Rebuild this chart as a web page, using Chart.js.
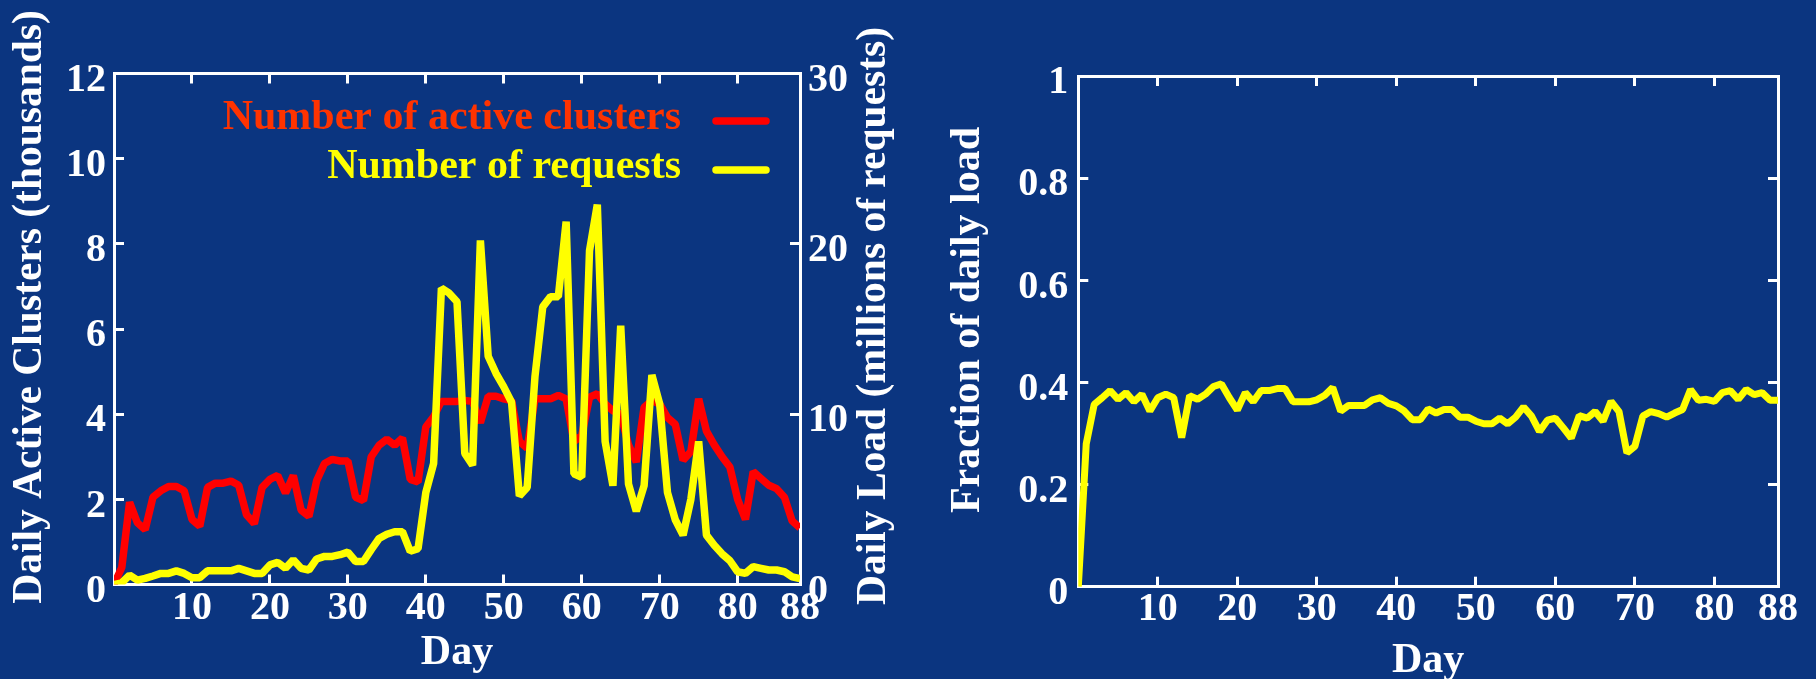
<!DOCTYPE html>
<html>
<head>
<meta charset="utf-8">
<script src="https://cdn.jsdelivr.net/npm/chart.js@4.4.1/dist/chart.umd.min.js"></script>
<style>
  html, body { margin: 0; padding: 0; background: #0b3580; }
  #wrap { position: relative; width: 1816px; height: 679px; overflow: hidden; }
  canvas { position: absolute; top: 0; }
  #left { left: 0; }
  #right { left: 908px; }
</style>
</head>
<body>
<div id="wrap">
  <canvas id="left" width="908" height="679"></canvas>
  <canvas id="right" width="908" height="679"></canvas>
</div>
<script>
// day index, 0..88
const days = [
  0, 1, 2, 3, 4, 5, 6, 7, 8, 9, 10, 11, 12, 13, 14, 15, 16, 17, 18, 19,
  20, 21, 22, 23, 24, 25, 26, 27, 28, 29, 30, 31, 32, 33, 34, 35, 36, 37, 38, 39,
  40, 41, 42, 43, 44, 45, 46, 47, 48, 49, 50, 51, 52, 53, 54, 55, 56, 57, 58, 59,
  60, 61, 62, 63, 64, 65, 66, 67, 68, 69, 70, 71, 72, 73, 74, 75, 76, 77, 78, 79,
  80, 81, 82, 83, 84, 85, 86, 87, 88,
];

// daily active clusters (thousands)
const clusters = [
  0.0, 0.4, 1.93, 1.45, 1.29, 2.05, 2.2, 2.3, 2.3, 2.2,
  1.53, 1.37, 2.28, 2.38, 2.38, 2.43, 2.33, 1.64, 1.43, 2.28,
  2.47, 2.56, 2.15, 2.56, 1.75, 1.6, 2.44, 2.84, 2.94, 2.9,
  2.9, 2.05, 1.97, 3.0, 3.27, 3.41, 3.27, 3.44, 2.47, 2.41,
  3.7, 3.94, 4.3, 4.3, 4.3, 4.32, 4.3, 3.8, 4.42, 4.42,
  4.36, 4.32, 3.36, 3.2, 4.36, 4.36, 4.36, 4.44, 4.36, 3.36,
  3.5, 4.4, 4.48, 4.24, 4.08, 4.0, 3.28, 2.88, 4.16, 4.32,
  4.24, 3.92, 3.76, 2.92, 3.12, 4.36, 3.6, 3.28, 3.0, 2.76,
  2.0, 1.53, 2.65, 2.49, 2.33, 2.25, 2.05, 1.49, 1.33,
];

// daily load (millions of requests)
const requests = [
  0.0, 0.1, 0.55, 0.26, 0.36, 0.5, 0.65, 0.65, 0.8, 0.65,
  0.4, 0.4, 0.8, 0.8, 0.8, 0.8, 0.95, 0.8, 0.65, 0.65,
  1.15, 1.3, 0.95, 1.45, 0.95, 0.85, 1.5, 1.65, 1.65, 1.75,
  1.9, 1.35, 1.35, 2.05, 2.7, 2.95, 3.1, 3.1, 1.95, 2.1,
  5.4, 7.1, 17.4, 17.1, 16.6, 7.7, 7.0, 20.2, 13.4, 12.4,
  11.6, 10.7, 5.2, 5.7, 12.2, 16.3, 16.9, 16.9, 21.3, 6.5,
  6.3, 19.6, 22.3, 8.4, 5.8, 15.2, 5.9, 4.3, 5.8, 12.3,
  10.6, 5.4, 3.8, 2.9, 5.0, 8.4, 2.9, 2.3, 1.8, 1.4,
  0.75, 0.65, 1.05, 0.95, 0.85, 0.85, 0.75, 0.45, 0.35,
];

// fraction of daily load
const fraction = [
  0.0, 0.28, 0.357, 0.37, 0.384, 0.367, 0.38, 0.362, 0.377, 0.344,
  0.37, 0.377, 0.37, 0.292, 0.374, 0.367, 0.377, 0.392, 0.397, 0.37,
  0.346, 0.38, 0.362, 0.384, 0.384, 0.388, 0.388, 0.362, 0.362, 0.362,
  0.366, 0.375, 0.39, 0.344, 0.355, 0.355, 0.355, 0.366, 0.37, 0.359,
  0.354, 0.344, 0.327, 0.327, 0.348, 0.34, 0.347, 0.347, 0.332, 0.332,
  0.324, 0.319, 0.319, 0.33, 0.319, 0.332, 0.352, 0.334, 0.304, 0.326,
  0.33, 0.311, 0.291, 0.335, 0.33, 0.343, 0.324, 0.363, 0.343, 0.262,
  0.275, 0.334, 0.343, 0.339, 0.332, 0.34, 0.347, 0.386, 0.365, 0.367,
  0.363, 0.38, 0.384, 0.367, 0.386, 0.376, 0.38, 0.365, 0.365,
];

const dayTicks = [10, 20, 30, 40, 50, 60, 70, 80, 88];
const clusterTicks = [0, 2, 4, 6, 8, 10, 12];
const requestTicks = [0, 10, 20, 30];
const fractionTicks = [0, 0.2, 0.4, 0.6, 0.8, 1];

const WHITE = "#ffffff";
const FAMILY = "'Liberation Serif', 'Times New Roman', serif";
const tickFont = { family: FAMILY, size: 40, weight: "bold", lineHeight: 1.2 };

const points = (ys) => days.map((d, i) => ({ x: d, y: ys[i] }));

function setTicks(values) {
  return (scale) => { scale.ticks = values.map((v) => ({ value: v })); };
}

// inward tick marks (gnuplot style) on every side of the frame
function axis(position, min, max, tickValues, size, opts = {}) {
  const horizontal = position === "top" || position === "bottom";
  return {
    type: "linear",
    position,
    min,
    max,
    afterBuildTicks: setTicks(tickValues),
    afterFit: (scale) => {
      if (horizontal) scale.height = size;
      else scale.width = size;
    },
    border: { color: WHITE, width: 3 },
    grid: {
      drawOnChartArea: false,
      drawTicks: true,
      tickLength: -10,
      tickColor: WHITE,
      tickWidth: 3,
    },
    ticks: {
      display: opts.labels !== false,
      color: WHITE,
      font: tickFont,
      padding: opts.padding || 0,
      labelOffset: horizontal ? 0 : 7,
      autoSkip: false,
      maxRotation: 0,
      minRotation: 0,
      callback: (v) => String(v),
    },
    title: opts.title
      ? {
          display: true,
          text: opts.title,
          color: WHITE,
          font: { family: FAMILY, size: 42, weight: "bold", lineHeight: 1 },
          padding: { top: 0, bottom: opts.titlePad || 0 },
        }
      : { display: false },
  };
}

function sideTitles(items) {
  return {
    id: "sideTitles",
    afterDraw(chart) {
      const { ctx } = chart;
      items.forEach((t) => {
        ctx.save();
        ctx.translate(t.x, t.y);
        ctx.rotate(-Math.PI / 2);
        ctx.font = `bold ${t.size}px ${FAMILY}`;
        ctx.fillStyle = WHITE;
        ctx.textAlign = "center";
        ctx.textBaseline = "middle";
        ctx.fillText(t.text, 0, 0);
        ctx.restore();
      });
    },
  };
}

// legend drawn inside the frame: right-aligned label, line sample to its right
const insideLegend = {
  id: "insideLegend",
  afterDraw(chart) {
    const { ctx } = chart;
    const textColors = ["#ff3300", "#ffff00"];
    ctx.save();
    ctx.font = `bold 42px ${FAMILY}`;
    ctx.textAlign = "right";
    ctx.textBaseline = "alphabetic";
    chart.data.datasets.forEach((ds, i) => {
      const base = 129 + i * 49;
      ctx.fillStyle = textColors[i];
      ctx.fillText(ds.label, 681, base);
      ctx.strokeStyle = ds.borderColor;
      ctx.lineWidth = 7.5;
      ctx.lineCap = "round";
      ctx.beginPath();
      ctx.moveTo(716, base - 8);
      ctx.lineTo(766, base - 8);
      ctx.stroke();
    });
    ctx.restore();
  },
};

const common = {
  responsive: false,
  animation: false,
  devicePixelRatio: 1,
  layout: { padding: 0 },
  plugins: { legend: { display: false }, tooltip: { enabled: false } },
  elements: { point: { radius: 0 }, line: { tension: 0, borderJoinStyle: "bevel" } },
};

new Chart(document.getElementById("left"), {
  type: "line",
  data: {
    datasets: [
      {
        label: "Number of active clusters",
        data: points(clusters),
        borderColor: "#ff0000",
        borderWidth: 7.5,
        xAxisID: "x",
        yAxisID: "y",
        order: 2,
      },
      {
        label: "Number of requests",
        data: points(requests),
        borderColor: "#ffff00",
        borderWidth: 7.5,
        xAxisID: "x",
        yAxisID: "y2",
        order: 1,
      },
    ],
  },
  options: {
    ...common,
    scales: {
      x: axis("bottom", 0, 88, dayTicks, 94.5, { padding: 10.5, title: "Day", titlePad: 5 }),
      xTop: axis("top", 0, 88, dayTicks, 73.5, { labels: false }),
      y: axis("left", 0, 12, clusterTicks, 114, { padding: 18 }),
      y2: axis("right", 0, 30, requestTicks, 108, { padding: 18 }),
    },
  },
  plugins: [
    insideLegend,
    sideTitles([
      { text: "Daily Active Clusters (thousands)", x: 30, y: 307, size: 41.5 },
      { text: "Daily Load (millions of requests)", x: 874, y: 316, size: 41.5 },
    ]),
  ],
});

new Chart(document.getElementById("right"), {
  type: "line",
  data: {
    datasets: [
      {
        label: "Fraction of daily load",
        data: points(fraction),
        borderColor: "#ffff00",
        borderWidth: 7,
      },
    ],
  },
  options: {
    ...common,
    scales: {
      x: axis("bottom", 0, 88, dayTicks, 92.3, { padding: 9.3, title: "Day", titlePad: -3 }),
      xTop: axis("top", 0, 88, dayTicks, 76, { labels: false }),
      y: axis("left", 0, 1, fractionTicks, 170.3, { padding: 20 }),
      yRight: axis("right", 0, 1, fractionTicks, 38, { labels: false }),
    },
  },
  plugins: [
    sideTitles([{ text: "Fraction of daily load", x: 60, y: 320, size: 42 }]),
  ],
});
</script>
</body>
</html>
